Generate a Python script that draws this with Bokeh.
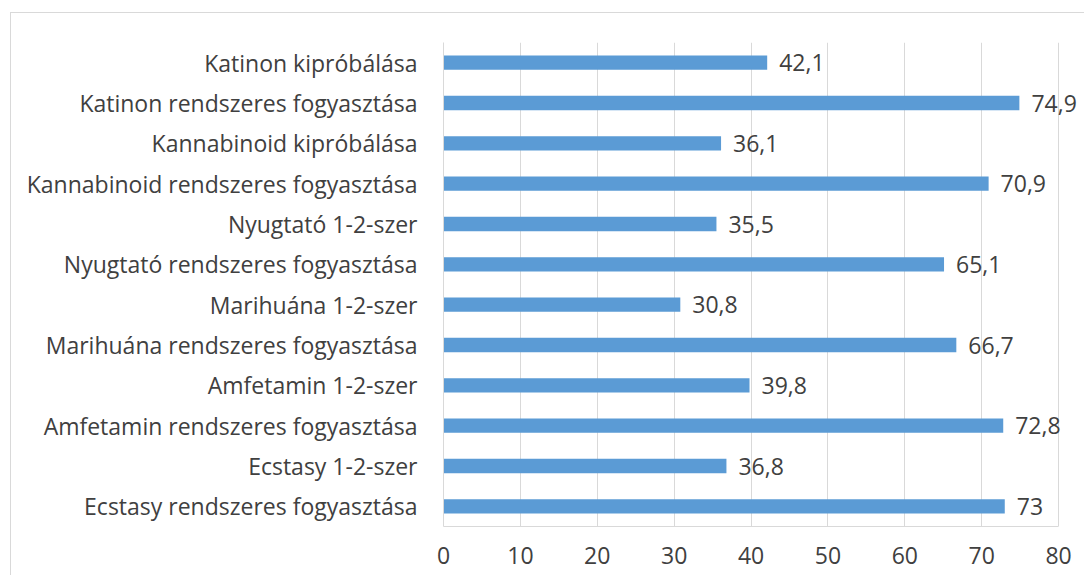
from bokeh.plotting import figure
from bokeh.models import ColumnDataSource, FactorRange, Range1d, FixedTicker, LabelSet
from bokeh.core.properties import value
from bokeh.embed import file_html
from bokeh.resources import INLINE

categories = [
    "Ecstasy rendszeres fogyasztása",
    "Ecstasy 1-2-szer",
    "Amfetamin rendszeres fogyasztása",
    "Amfetamin 1-2-szer",
    "Marihuána rendszeres fogyasztása",
    "Marihuána 1-2-szer",
    "Nyugtató rendszeres fogyasztása",
    "Nyugtató 1-2-szer",
    "Kannabinoid rendszeres fogyasztása",
    "Kannabinoid kipróbálása",
    "Katinon rendszeres fogyasztása",
    "Katinon kipróbálása",
]
values = [73, 36.8, 72.8, 39.8, 66.7, 30.8, 65.1, 35.5, 70.9, 36.1, 74.9, 42.1]
x_ticks = [0, 10, 20, 30, 40, 50, 60, 70, 80]

def fmt(v):
    s = ("%g" % v)
    return s.replace(".", ",")

labels = [fmt(v) for v in values]
src = ColumnDataSource(dict(cat=categories, val=values, lab=labels))

FONT = "Open Sans"
TXT = "#404040"
FS = "23px"

# figure placed at (10, 12) with a light border on its top and left edges
p = figure(
    width=1074, height=563,
    y_range=FactorRange(factors=categories, range_padding=0),
    x_range=Range1d(0, 83.5),
    output_backend="svg", toolbar_location=None,
    min_border_left=432, min_border_right=0, min_border_top=29, min_border_bottom=50,
    margin=(12, 0, 0, 10),
)
p.styles = {"border-left": "1px solid #d9d9d9", "border-top": "1px solid #d9d9d9"}

p.hbar(y="cat", right="val", left=0, height=0.355, source=src,
       color="#5B9BD5", line_color=None)

lbl = LabelSet(x="val", y="cat", text="lab", source=src, x_offset=12,
               text_baseline="middle", text_align="left",
               text_font=value(FONT), text_font_size=FS, text_color=TXT)
p.add_layout(lbl)

p.outline_line_color = None
p.ygrid.grid_line_color = None
p.xgrid.grid_line_color = "#d9d9d9"
p.xgrid.grid_line_width = 1
p.xgrid.ticker = FixedTicker(ticks=x_ticks)

p.xaxis.ticker = FixedTicker(ticks=x_ticks)
p.xaxis.bounds = (0, 80)
p.xaxis.axis_line_color = "#d9d9d9"
p.xaxis.major_tick_line_color = None
p.xaxis.minor_tick_line_color = None
p.xaxis.major_tick_out = 0
p.xaxis.major_tick_in = 0
p.xaxis.major_label_standoff = 20
p.xaxis.major_label_text_font = FONT
p.xaxis.major_label_text_font_size = FS
p.xaxis.major_label_text_color = TXT

p.yaxis.axis_line_color = "#d9d9d9"
p.yaxis.major_tick_line_color = None
p.yaxis.minor_tick_line_color = None
p.yaxis.major_tick_out = 0
p.yaxis.major_tick_in = 0
p.yaxis.major_label_standoff = 26
p.yaxis.major_label_text_font = FONT
p.yaxis.major_label_text_font_size = FS
p.yaxis.major_label_text_color = TXT

open("out.html", "w").write(file_html(p, INLINE))
